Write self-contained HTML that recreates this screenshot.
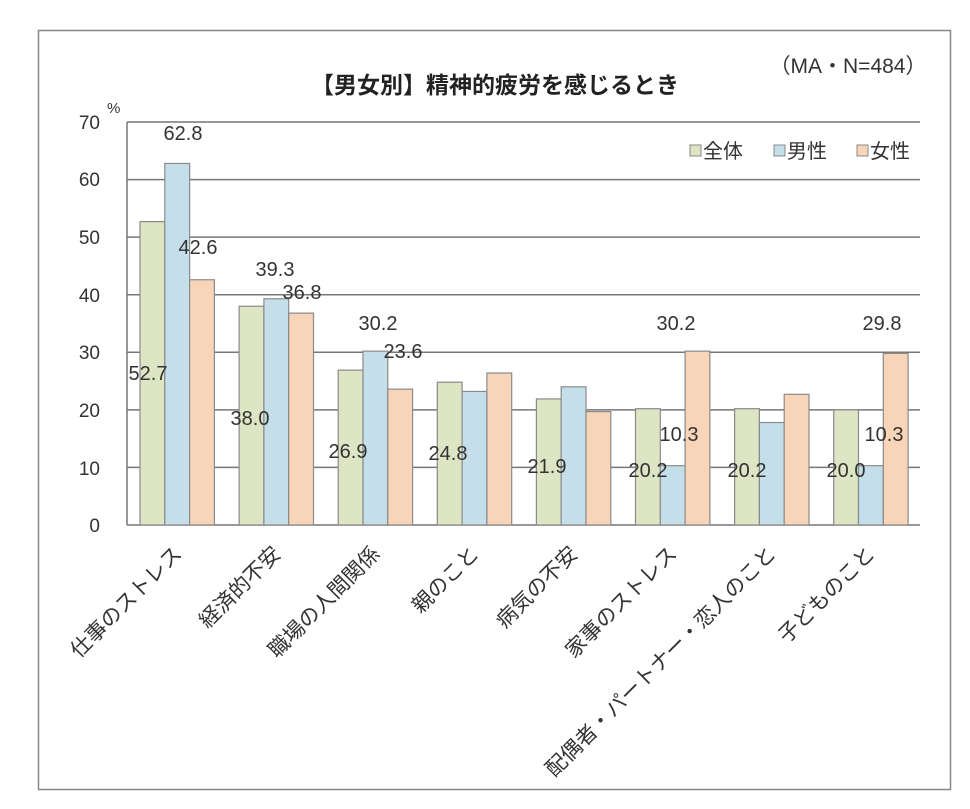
<!DOCTYPE html>
<html><head><meta charset="utf-8"><style>
body{margin:0;background:#fff;}
svg text{font-family:"Liberation Sans","Noto Sans CJK JP",sans-serif;}
</style></head><body>
<svg width="970" height="804" viewBox="0 0 970 804" xmlns="http://www.w3.org/2000/svg">
<rect x="0" y="0" width="970" height="804" fill="#fff"/>
<rect x="38.5" y="30.5" width="912" height="759" fill="#fff" stroke="#888" stroke-width="1.5"/>
<text x="495" y="93" font-size="23" font-weight="bold" text-anchor="middle" fill="#222">【男女別】精神的疲労を感じるとき</text>
<text x="848" y="73" font-size="21" text-anchor="middle" fill="#333">（MA・N=484）</text>
<g stroke="#777" stroke-width="1.5">
<line x1="127" y1="122" x2="920" y2="122"/>
<line x1="127" y1="179.6" x2="920" y2="179.6"/>
<line x1="127" y1="237.1" x2="920" y2="237.1"/>
<line x1="127" y1="294.7" x2="920" y2="294.7"/>
<line x1="127" y1="352.3" x2="920" y2="352.3"/>
<line x1="127" y1="409.9" x2="920" y2="409.9"/>
<line x1="127" y1="467.4" x2="920" y2="467.4"/>
<line x1="127" y1="525" x2="920" y2="525"/>
<line x1="127" y1="122" x2="127" y2="525"/>
</g>
<g font-size="19" fill="#333" text-anchor="end">
<text x="100" y="129">70</text><text x="100" y="186">60</text><text x="100" y="244">50</text>
<text x="100" y="302">40</text><text x="100" y="359">30</text><text x="100" y="417">20</text>
<text x="100" y="475">10</text><text x="100" y="532">0</text>
</g>
<text x="107" y="113" font-size="15" fill="#333">%</text>
<g font-size="20" fill="#333">
<rect x="690" y="145" width="11" height="11" fill="#dde5c4" stroke="#888"/><text x="703" y="158">全体</text>
<rect x="774" y="145" width="11" height="11" fill="#c5dfea" stroke="#888"/><text x="787" y="158">男性</text>
<rect x="857" y="145" width="11" height="11" fill="#f8d5b8" stroke="#888"/><text x="870" y="158">女性</text>
</g>
<g id="bars" stroke="#8a8a8a" stroke-width="1.2"></g>
<script>
var g=document.getElementById('bars'),ns='http://www.w3.org/2000/svg';
var d=[[52.7,62.8,42.6],[38.0,39.3,36.8],[26.9,30.2,23.6],[24.8,23.2,26.4],[21.9,24.0,19.7],[20.2,10.3,30.2],[20.2,17.8,22.7],[20.0,10.3,29.8]];
var c=['#dde5c4','#c5dfea','#f8d5b8'];
for(var i=0;i<8;i++)for(var j=0;j<3;j++){var r=document.createElementNS(ns,'rect');var h=d[i][j]*5.757;
r.setAttribute('x',140+i*99.1+j*24.8);r.setAttribute('y',525-h);r.setAttribute('width',24.8);r.setAttribute('height',h);r.setAttribute('fill',c[j]);g.appendChild(r);}
</script>
<g font-size="20" fill="#333" text-anchor="middle">
<text x="183" y="140">62.8</text><text x="148" y="380">52.7</text><text x="198" y="254">42.6</text>
<text x="275" y="276">39.3</text><text x="302" y="299">36.8</text><text x="250" y="425">38.0</text>
<text x="378" y="330">30.2</text><text x="403" y="358">23.6</text><text x="348" y="458">26.9</text>
<text x="448" y="460">24.8</text><text x="547" y="473">21.9</text>
<text x="676" y="330">30.2</text><text x="679" y="441">10.3</text><text x="648" y="477">20.2</text>
<text x="747" y="477">20.2</text>
<text x="882" y="330">29.8</text><text x="884" y="441">10.3</text><text x="846" y="477">20.0</text>
</g>
<g font-size="21" fill="#333" text-anchor="end">
<text transform="translate(183,555) rotate(-45)">仕事のストレス</text>
<text transform="translate(282,555) rotate(-45)">経済的不安</text>
<text transform="translate(381,555) rotate(-45)">職場の人間関係</text>
<text transform="translate(480,555) rotate(-45)">親のこと</text>
<text transform="translate(579,555) rotate(-45)">病気の不安</text>
<text transform="translate(678,555) rotate(-45)">家事のストレス</text>
<text transform="translate(777,555) rotate(-45)">配偶者・パートナー・恋人のこと</text>
<text transform="translate(876,555) rotate(-45)">子どものこと</text>
</g>
</svg>
</body></html>
